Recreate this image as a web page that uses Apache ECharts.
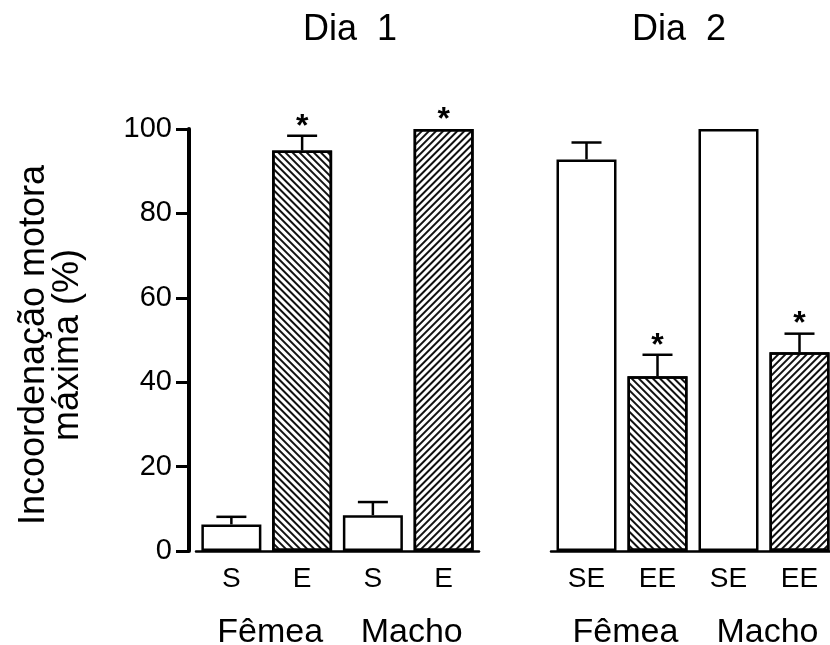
<!DOCTYPE html>
<html>
<head>
<meta charset="utf-8">
<script src="https://cdn.jsdelivr.net/npm/echarts@6/dist/echarts.min.js"></script>
<style>
html,body{margin:0;padding:0;background:#fff;}
#chart{width:830px;height:645px;}
</style>
</head>
<body>
<div id="chart"></div>
<script>
// ---- data ----
const dia1Categories = ['S', 'E', 'S', 'E'];
const dia1Values = [6.3, 94.9, 8.5, 100];
const dia1Errors = [1.8, 3.5, 3.1, 0];
const dia1Significant = [false, true, false, true];

const dia2Categories = ['SE', 'EE', 'SE', 'EE'];
const dia2Values = [92.8, 41.4, 100, 47.1];
const dia2Errors = [4.0, 5.1, 0, 4.4];
const dia2Significant = [false, true, false, true];

const groupLabels = ['Fêmea', 'Macho'];
const panelTitles = ['Dia  1', 'Dia  2'];
const yAxisTitle = 'Incoordenação motora\nmáxima (%)';
const yMin = 0, yMax = 100, yInterval = 20;

// ---- styling helpers ----
const FONT = '"Liberation Sans", Arial, Helvetica, sans-serif';
function hatch(direction) {
  return {
    symbol: 'rect', symbolSize: 1,
    dashArrayX: [1, 0], dashArrayY: [2, 3],
    rotation: direction === 'back' ? Math.PI / 4 : -Math.PI / 4,
    color: '#111'
  };
}
function barData(cats, vals) {
  return vals.map((v, i) => {
    const treated = cats[i].charAt(0) === 'E';
    const item = { value: v, itemStyle: { color: '#fff' } };
    if (treated) item.itemStyle.decal = hatch(i < 2 ? 'back' : 'forward');
    return item;
  });
}
function errData(vals, errs, sig) {
  return vals.map((v, i) => [i, v, errs[i], sig[i] ? 1 : 0]);
}
function renderErr(params, api) {
  const v = api.value(1), e = api.value(2), s = api.value(3), i = api.value(0);
  const base = api.coord([i, v]);
  const top = api.coord([i, v + e]);
  const children = [];
  const st = { stroke: '#000', lineWidth: 2.5 };
  if (e > 0) {
    children.push({ type: 'line', shape: { x1: base[0], y1: base[1], x2: top[0], y2: top[1] }, style: st });
    children.push({ type: 'line', shape: { x1: top[0] - 15, y1: top[1], x2: top[0] + 15, y2: top[1] }, style: st });
  }
  if (s) {
    children.push({ type: 'text', style: { text: '*', x: top[0], y: top[1] - 9, align: 'center', verticalAlign: 'middle', font: 'bold 32px ' + FONT, fill: '#000' } });
  }
  return { type: 'group', children };
}

const chart = echarts.init(document.getElementById('chart'), null, { renderer: 'canvas' });

const catAxisCommon = {
  type: 'category',
  axisLine: { show: true, lineStyle: { color: '#000', width: 2.5 } },
  axisTick: { show: false },
  axisLabel: { color: '#000', fontSize: 28, fontFamily: FONT, margin: 14 },
  splitLine: { show: false }
};
const groupAxisCommon = {
  type: 'category',
  position: 'bottom',
  offset: 50,
  data: groupLabels,
  axisLine: { show: false },
  axisTick: { show: false },
  axisLabel: { color: '#000', fontSize: 34, fontFamily: FONT, margin: 15, padding: [0, 0, 0, 7] },
  splitLine: { show: false }
};

const option = {
  backgroundColor: '#fff',
  animation: false,
  grid: [
    { left: 196, top: 129, width: 283, height: 422, containLabel: false, outerBoundsMode: 'none' },
    { left: 551, top: 129, width: 284, height: 422, containLabel: false, outerBoundsMode: 'none' }
  ],
  xAxis: [
    Object.assign({}, catAxisCommon, { gridIndex: 0, data: dia1Categories }),
    Object.assign({}, catAxisCommon, { gridIndex: 1, data: dia2Categories }),
    Object.assign({}, groupAxisCommon, { gridIndex: 0 }),
    Object.assign({}, groupAxisCommon, { gridIndex: 1 })
  ],
  yAxis: [
    {
      type: 'value', gridIndex: 0, min: yMin, max: yMax, interval: yInterval, offset: 7,
      axisLine: { show: true, lineStyle: { color: '#000', width: 4 } },
      axisTick: { show: true, length: 13, lineStyle: { color: '#000', width: 3 } },
      axisLabel: { color: '#000', fontSize: 29, fontFamily: FONT, margin: 17, padding: [0, 0, 8, 0] },
      splitLine: { show: false }
    },
    {
      type: 'value', gridIndex: 1, min: yMin, max: yMax, interval: yInterval, show: false,
      splitLine: { show: false }
    }
  ],
  series: [
    {
      type: 'bar', xAxisIndex: 0, yAxisIndex: 0, barWidth: 60,
      itemStyle: { color: '#fff', borderColor: '#000', borderWidth: 2.5 },
      data: barData(dia1Categories, dia1Values), z: 2
    },
    {
      type: 'bar', xAxisIndex: 1, yAxisIndex: 1, barWidth: 60,
      itemStyle: { color: '#fff', borderColor: '#000', borderWidth: 2.5 },
      data: barData(dia2Categories, dia2Values), z: 2
    },
    {
      type: 'custom', xAxisIndex: 0, yAxisIndex: 0, renderItem: renderErr, clip: false,
      encode: { x: 0, y: 1 }, data: errData(dia1Values, dia1Errors, dia1Significant), z: 3
    },
    {
      type: 'custom', xAxisIndex: 1, yAxisIndex: 1, renderItem: renderErr, clip: false,
      encode: { x: 0, y: 1 }, data: errData(dia2Values, dia2Errors, dia2Significant), z: 3
    }
  ],
  graphic: [
    { type: 'text', x: 350, y: 30, style: { text: panelTitles[0], align: 'center', verticalAlign: 'middle', font: '36px ' + FONT, fill: '#000' } },
    { type: 'text', x: 679, y: 30, style: { text: panelTitles[1], align: 'center', verticalAlign: 'middle', font: '36px ' + FONT, fill: '#000' } },
    { type: 'text', x: 51, y: 345, rotation: Math.PI / 2, style: { text: yAxisTitle, align: 'center', verticalAlign: 'middle', lineHeight: 34, font: '36px ' + FONT, fill: '#000' } }
  ]
};
chart.setOption(option);
</script>
</body>
</html>
